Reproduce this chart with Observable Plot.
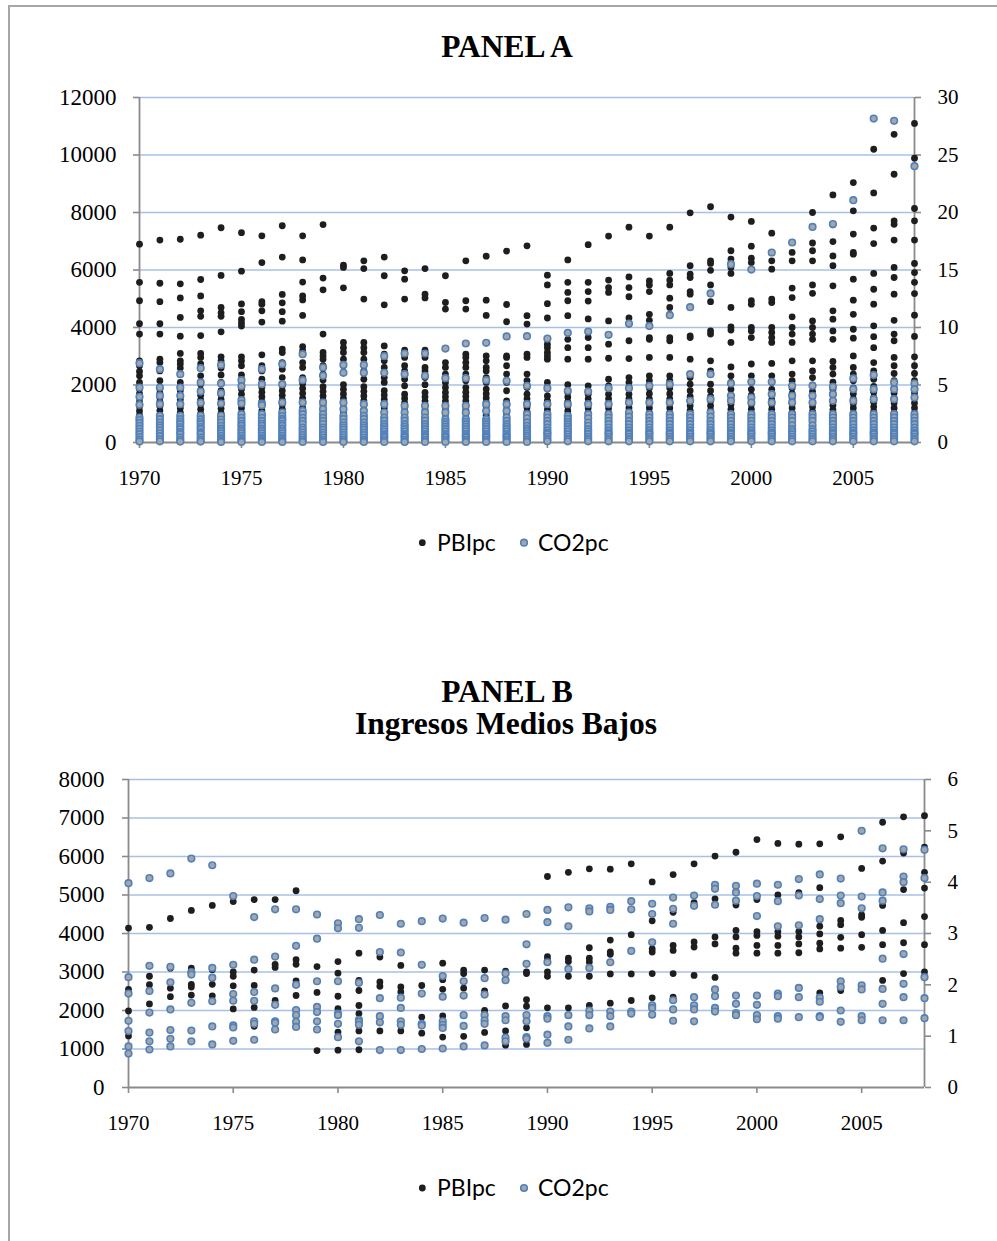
<!DOCTYPE html>
<html><head><meta charset="utf-8">
<script src="https://cdn.jsdelivr.net/npm/d3@7"></script>
<script src="https://cdn.jsdelivr.net/npm/@observablehq/plot@0.6"></script>
<style>
body{margin:0;background:#fff;}
#page{position:relative;width:997px;height:1241px;overflow:hidden;background:#fff;}
.frame{position:absolute;left:8px;top:5px;width:1100px;height:1400px;border-left:2px solid #a6a6a6;border-top:2px solid #a6a6a6;}
.plot{position:absolute;left:0;}
#page svg.plot text{font-family:"Liberation Serif","Times New Roman",serif !important;}
#overlay{position:absolute;left:0;top:0;}
</style></head>
<body><div id="page"><div class="frame"></div></div>
<script>
const years = [1970,1971,1972,1973,1974,1975,1976,1977,1978,1979,1980,1981,1982,1983,1984,1985,1986,1987,1988,1989,1990,1991,1992,1993,1994,1995,1996,1997,1998,1999,2000,2001,2002,2003,2004,2005,2006,2007,2008];
const series = ["PBIpc","CO2pc"];
const titleA = "PANEL A";
const titleB = ["PANEL B","Ingresos Medios Bajos"];
const xTicks = [1970,1975,1980,1985,1990,1995,2000,2005];
const leftTicksA = [0,2000,4000,6000,8000,10000,12000];
const rightTicksA = [0,5,10,15,20,25,30];
const leftTicksB = [0,1000,2000,3000,4000,5000,6000,7000,8000];
const rightTicksB = [0,1,2,3,4,5,6];

// PANEL A: PBIpc per year (left axis)
const pbiA = [
[6900,5570,4930,4130,3770,2840,2670,2470,2320,2090,1860,1700,1550,1400,1250,1100,950,800,650,500,350,200,90],
[7040,5540,4900,4130,3770,2900,2780,2490,2150,1860,1720,1560,1420,1260,1110,960,810,660,510,360,210,100],
[7070,5520,5030,4350,3700,3100,2840,2730,2590,2380,2090,1800,1650,1500,1350,1200,1050,900,750,600,450,300,150],
[7210,5670,5100,4580,4390,3720,3100,2960,2730,2590,2320,2030,1820,1640,1480,1320,1160,1000,840,680,520,360,200,90],
[7470,5810,4700,4510,4390,3850,2980,2840,2590,2350,2090,1800,1660,1500,1340,1180,1020,860,700,540,380,220,100],
[7300,5960,4820,4550,4280,4160,4050,2980,2840,2670,2350,2030,1850,1680,1520,1360,1200,1040,880,720,560,400,240,110],
[7190,6260,4900,4810,4580,4190,3050,2670,2490,2200,1910,1750,1590,1430,1270,1110,950,790,630,470,310,150],
[7540,6450,5150,4860,4550,4220,3250,3130,2780,2550,2260,1970,1800,1640,1480,1320,1160,1000,840,680,520,360,200,100],
[7190,6350,5580,5100,4960,4420,3330,3190,3070,2780,2610,2260,2050,1880,1710,1540,1370,1200,1030,860,690,520,350,180],
[7580,5720,5310,3770,3130,3010,2900,2670,2380,2170,1940,1780,1620,1460,1300,1140,980,820,660,500,340,180],
[6170,6090,5380,3480,3300,3130,2900,2670,2440,2010,1850,1690,1530,1370,1210,1050,890,730,570,410,250,120],
[6320,6050,4990,3480,3300,3130,2900,2490,2200,1940,1780,1620,1460,1300,1140,980,820,660,500,340,180],
[6450,5800,4790,3360,3070,2840,2610,2260,2090,1800,1650,1500,1350,1200,1050,900,750,600,450,300,150],
[5970,5680,4990,3210,2960,2670,2490,2200,1970,1680,1530,1380,1230,1080,930,780,630,480,330,180],
[6050,5160,5030,3210,2960,2610,2490,2260,2010,1740,1590,1440,1290,1140,990,840,690,540,390,240,110],
[5800,4870,4640,2780,2610,2380,2090,1910,1740,1590,1440,1290,1140,990,840,690,540,390,240,110],
[6320,4930,4640,3070,2960,2780,2610,2380,2150,1910,1750,1600,1450,1300,1150,1000,850,700,550,400,250,120],
[6480,4950,4420,3010,2840,2610,2490,2260,2090,1860,1700,1550,1400,1250,1100,950,800,650,500,350,200,100],
[6660,4800,4200,3010,2960,2670,2380,2090,1800,1450,1300,1150,1000,850,700,550,400,250,120],
[6840,4410,4120,3070,2960,2380,2150,1910,1680,1520,1370,1220,1070,920,770,620,470,320,170],
[5820,5480,4830,4330,3590,3420,3300,3130,3010,2900,2090,1860,1620,1460,1300,1140,980,820,660,500,340,180],
[6350,5570,5220,4930,4410,3590,3300,2900,2010,1740,1580,1420,1260,1100,940,780,620,460,300,150],
[6880,5570,5250,4920,4300,3650,3300,2900,1970,1680,1520,1360,1200,1040,880,720,560,400,240,110],
[7180,5650,5390,5220,4230,3750,3420,2930,2200,1970,1680,1520,1360,1200,1040,880,720,560,400,240,110],
[7490,5760,5390,5070,4330,4120,3540,2920,2260,2090,1680,1520,1360,1200,1040,880,720,560,400,240,110],
[7180,5620,5480,5250,4460,4250,3650,3590,2960,2320,2150,1900,1700,1520,1360,1200,1040,880,720,560,400,240,110],
[7490,5880,5650,5480,5020,4700,4460,3650,3540,2960,2320,2150,1900,1700,1520,1360,1200,1040,880,720,560,400,240,110],
[7990,6150,5860,5740,5250,5160,4700,3710,3650,2900,2260,2030,1800,1600,1440,1280,1120,960,800,640,480,320,160],
[8200,6320,6230,5990,5480,4900,3880,3770,2840,2490,2030,1800,1600,1440,1280,1120,960,800,640,480,320,160],
[7840,6670,6380,6090,5880,4700,4020,3910,3480,2630,2320,2090,1850,1650,1480,1320,1160,1000,840,680,520,360,200],
[7690,6830,6410,6260,4930,4810,4000,3880,3650,2730,2320,2090,1850,1650,1480,1320,1160,1000,840,680,520,360,200],
[7280,6320,6030,4990,4870,4000,3830,3650,3480,2750,2320,2090,1850,1650,1480,1320,1160,1000,840,680,520,360,200],
[6960,6610,6320,5370,5040,4370,4000,3770,3480,2840,2380,2150,1900,1700,1520,1360,1200,1040,880,720,560,400,240],
[8000,6940,6670,6320,5480,5190,4230,4000,3770,3590,2840,2490,2260,2000,1780,1580,1400,1240,1080,920,760,600,440,280],
[8610,7570,6990,6490,6150,5450,4580,4290,3880,3590,2820,2610,2380,2100,1850,1650,1470,1300,1140,980,820,660,500,340],
[9040,8060,7250,6610,6550,5680,4950,4460,3940,3630,3010,2610,2380,2150,1900,1700,1520,1360,1200,1040,880,720,560,400],
[10200,8680,7460,6920,5880,5330,4810,4060,3680,3300,2780,2490,2200,1950,1750,1570,1400,1240,1080,920,760,600,440,280],
[10720,9330,7710,7590,7040,6090,5740,5160,4250,3770,3540,2960,2670,2400,2150,1920,1720,1540,1370,1200,1040,880,720,560,400],
[11100,9890,8140,7710,7040,6230,5910,5570,5180,4430,3690,2980,2670,2400,2150,1920,1720,1540,1370,1200,1040,880,720,560,400]
];

// PANEL A: CO2pc per year (right axis)
const co2A = [
[6.90,4.78,3.97,3.28,2.17,1.95,1.70,1.45,1.20,0.95,0.72,0.48,0.25,0.08],
[6.38,4.78,4.06,3.33,2.32,2.03,1.74,1.50,1.30,1.05,0.80,0.55,0.30,0.10],
[5.94,4.78,4.06,3.33,2.32,2.03,1.80,1.59,1.35,1.16,0.90,0.72,0.45,0.25,0.08],
[6.46,5.22,4.43,3.45,2.32,2.03,1.80,1.59,1.35,1.16,0.90,0.72,0.45,0.25,0.08],
[6.75,5.13,4.29,3.39,2.32,2.00,1.74,1.45,1.20,1.01,0.80,0.58,0.38,0.20,0.05],
[5.42,4.90,3.68,3.39,2.46,2.15,1.88,1.62,1.45,1.20,1.01,0.80,0.58,0.38,0.20,0.05],
[6.38,5.07,3.39,3.25,2.46,2.15,1.88,1.62,1.45,1.20,1.01,0.80,0.58,0.38,0.20,0.05],
[6.81,5.07,3.48,2.61,2.30,2.05,1.88,1.62,1.45,1.20,1.01,0.80,0.58,0.38,0.20,0.05],
[7.68,5.42,3.48,2.75,2.46,2.15,1.88,1.60,1.30,1.10,0.87,0.65,0.43,0.22,0.05],
[6.52,5.80,3.48,2.90,2.46,2.15,1.88,1.60,1.30,1.10,0.87,0.65,0.43,0.22,0.05],
[6.75,6.06,3.48,2.90,2.32,2.05,1.74,1.50,1.30,1.10,0.87,0.65,0.43,0.22,0.05],
[6.75,6.06,3.33,2.75,2.32,2.05,1.74,1.50,1.30,1.10,0.87,0.65,0.43,0.22,0.05],
[7.51,6.06,3.33,2.61,2.17,1.90,1.59,1.38,1.16,0.95,0.72,0.55,0.43,0.22,0.05],
[7.74,5.94,3.19,2.61,2.17,1.90,1.59,1.38,1.16,0.95,0.72,0.55,0.43,0.22,0.05],
[7.74,5.80,3.19,2.61,2.17,1.90,1.59,1.38,1.16,0.95,0.72,0.55,0.43,0.22,0.05],
[8.17,5.59,3.19,2.61,2.03,1.80,1.59,1.38,1.16,0.95,0.72,0.55,0.43,0.22,0.05],
[8.61,5.59,3.19,2.61,2.03,1.80,1.59,1.38,1.16,0.95,0.72,0.55,0.43,0.22,0.05],
[8.67,5.42,3.33,2.75,2.03,1.80,1.59,1.38,1.16,0.95,0.72,0.55,0.43,0.22,0.05],
[9.22,5.36,3.33,2.75,2.17,1.88,1.59,1.38,1.16,0.95,0.72,0.55,0.43,0.22,0.05],
[9.25,4.93,3.33,2.46,2.10,1.75,1.45,1.20,1.01,0.80,0.60,0.43,0.22,0.05],
[9.04,4.72,3.33,2.46,2.17,1.88,1.59,1.30,1.05,0.85,0.72,0.50,0.29,0.10],
[9.54,4.49,3.33,2.32,2.05,1.80,1.59,1.38,1.16,0.95,0.72,0.50,0.29,0.10],
[9.65,4.43,3.33,2.46,2.10,1.74,1.45,1.16,0.95,0.72,0.50,0.29,0.10],
[9.36,4.72,3.33,2.46,2.17,1.88,1.59,1.30,1.05,0.85,0.72,0.50,0.29,0.10],
[10.35,4.72,3.48,2.61,2.25,1.88,1.59,1.30,1.05,0.85,0.72,0.50,0.29,0.10],
[10.12,4.93,3.48,2.46,2.17,1.88,1.59,1.30,1.05,0.85,0.72,0.50,0.29,0.10],
[11.07,5.07,3.48,2.46,2.17,1.88,1.59,1.30,1.05,0.85,0.72,0.50,0.29,0.10],
[11.77,5.94,3.62,2.46,2.17,1.88,1.59,1.30,1.05,0.85,0.72,0.50,0.29,0.10],
[12.96,5.94,3.77,2.61,2.25,1.88,1.59,1.30,1.05,0.85,0.72,0.50,0.29,0.10],
[15.51,5.13,4.06,3.62,2.46,2.17,1.88,1.59,1.30,1.05,0.85,0.72,0.50,0.29,0.10],
[15.04,5.28,3.91,3.48,2.46,2.17,1.88,1.59,1.30,1.05,0.85,0.72,0.50,0.29,0.10],
[16.52,5.28,4.20,3.48,2.46,2.17,1.88,1.59,1.30,1.05,0.85,0.72,0.50,0.29,0.10],
[17.39,4.93,4.06,3.48,2.46,2.17,1.88,1.50,1.16,0.95,0.72,0.50,0.29,0.10],
[18.75,4.93,4.06,3.48,2.46,2.17,1.88,1.50,1.16,0.95,0.72,0.50,0.29,0.10],
[18.99,4.84,4.20,3.62,2.46,2.17,1.88,1.59,1.30,1.05,0.85,0.72,0.50,0.29,0.10],
[21.07,5.57,4.64,3.62,2.46,2.17,1.88,1.59,1.30,1.05,0.85,0.72,0.50,0.29,0.10],
[28.17,5.86,4.64,3.77,2.46,2.17,1.88,1.59,1.30,1.05,0.85,0.72,0.50,0.29,0.10],
[27.97,5.22,4.64,3.77,2.46,2.17,1.88,1.59,1.30,1.05,0.85,0.72,0.50,0.29,0.10],
[24.03,5.13,4.64,3.91,2.46,2.17,1.88,1.59,1.30,1.05,0.85,0.72,0.50,0.29,0.10]
];

// PANEL B: PBIpc per year (left axis)
const pbiB = [
[4140,2550,1990,1340],
[4160,2890,2670,2520,2170],
[4390,3100,2580,2360],
[4600,3100,2680,2610,2400],
[4730,3060,2680,2380],
[4830,3000,2890,2640,2040],
[4880,3050,2650,2080,1590],
[4880,3200,3120,2260,1710],
[5110,3320,3200,2770,2390],
[3140,2470,960],
[3270,2970,2370,2050,1440,970],
[3490,2780,2520,2130,1920,1470,980],
[3390,2740,2630,1810,1470],
[3170,2610,2480,1470],
[3190,2650,1830,1410],
[3230,2800,2550,1860,1310],
[3050,2960,2580,1880,1330],
[3050,2510,2000,1430],
[3020,2120,1470,1100],
[3000,2960,2280,2110,1550,1120],
[5480,3400,3320,3000,2890,2070],
[5590,3360,3270,2890,2070],
[5680,3630,3360,3260,2890,2130],
[5670,3830,3520,3460,2950,2190],
[5810,3970,2950,2260],
[5340,4330,3600,3520,2960,2330],
[5530,4550,3690,3560,2960,2350],
[5810,4800,3780,3650,2910],
[6010,4900,3910,3730,2860],
[6110,4740,4080,3910,3620,3490],
[6440,4880,4050,3950,3690,3490],
[6340,5000,4050,3930,3690,3490],
[6320,5060,4050,3910,3730,3500],
[6330,5190,4190,3990,3750,3600,2460],
[6510,4340,4230,3900,3620,2520],
[5690,4480,4420,3970,3640],
[6890,5880,4730,4080,3710,2780],
[7030,6090,5140,4280,3760,2960],
[7060,6240,5590,5180,4440,3710,3000]
];

// PANEL B: CO2pc per year (right axis)
const co2B = [
[3.98,2.15,1.83,1.30,1.10,0.80,0.66],
[4.08,2.37,1.88,1.46,1.07,0.90,0.74],
[4.17,2.35,2.05,1.52,1.12,0.95,0.80],
[4.46,2.25,2.20,1.65,1.11,0.90],
[4.33,2.33,2.14,1.68,1.19,0.84],
[3.73,2.39,1.82,1.69,1.21,1.17,0.91],
[3.32,2.49,1.86,1.69,1.29,1.24,0.93],
[3.47,2.55,1.93,1.61,1.29,1.26,1.13],
[3.47,2.76,2.00,1.51,1.41,1.28,1.18],
[3.37,2.90,2.07,1.57,1.47,1.29,1.13],
[3.20,3.10,2.07,1.44,1.41,1.24,0.98],
[3.28,3.11,2.04,1.32,1.28,1.22,0.90],
[3.36,2.64,1.74,1.39,1.27,0.73],
[3.19,2.63,1.75,1.55,1.29,1.22,0.73],
[3.24,2.39,1.83,1.24,1.21,0.75],
[3.29,2.17,1.77,1.29,1.22,1.16,0.76],
[3.21,2.07,1.79,1.41,1.20,0.80],
[3.30,2.13,1.81,1.41,1.31,1.24,0.82],
[3.27,2.22,2.09,1.39,1.31,0.97,0.90],
[3.38,2.79,2.41,1.41,1.29,0.98,0.95],
[3.46,3.22,2.44,1.39,1.34,1.03,0.87],
[3.51,3.14,2.31,1.41,1.19,0.93],
[3.49,3.43,2.33,1.50,1.41,1.15],
[3.52,3.46,2.44,1.48,1.39,1.19],
[3.63,3.47,2.66,1.48,1.44],
[3.58,3.38,2.83,1.60,1.55,1.42],
[3.70,3.48,3.19,1.70,1.52,1.30],
[3.74,3.54,1.76,1.60,1.52,1.29],
[3.95,3.87,3.56,1.91,1.78,1.55,1.48],
[3.93,3.80,3.64,1.79,1.63,1.45,1.41],
[3.97,3.73,3.34,1.79,1.61,1.41,1.33],
[3.95,3.63,3.14,1.83,1.78,1.39,1.34],
[4.06,3.74,3.16,1.94,1.76,1.37],
[4.15,3.67,3.28,1.75,1.67,1.39,1.37],
[4.07,3.74,3.59,2.07,1.96,1.50,1.28],
[5.00,3.72,3.49,1.99,1.91,1.39,1.31],
[4.66,3.80,3.64,2.51,1.92,1.63,1.31],
[4.64,4.11,4.00,2.60,2.02,1.76,1.31],
[4.63,4.08,2.15,1.74,1.35]
];

const C = {black:"#1e1e1e", blueStroke:"#4f81bd", blueFill:"#a6a6a6", grid:"#a9c0e4", axis:"#8a8a8a"};

function flat(arr, factor){
  const out = [];
  years.forEach((yr,i)=>arr[i].forEach(v=>out.push({year:yr, value:v, y:v*factor})));
  return out;
}

function panel({pbi, co2, yMax, rMax, leftTicks, rightTicks, gridTicks, top, height, mt, mb, ml, mr, lpad, rpad}){
  const f = yMax / rMax;
  const black = flat(pbi, 1);
  const blue = flat(co2, f);
  const svg = Plot.plot({
    width: 997, height, marginTop: mt, marginBottom: mb, marginLeft: ml, marginRight: mr,
    x: {domain: [1970, 2008]},
    y: {domain: [0, yMax]},
    style: {fontFamily: "'Liberation Serif'", background: "transparent", overflow: "visible", color: "#000"},
    marks: [
      Plot.ruleY(gridTicks, {stroke: C.grid, strokeWidth: 1.7}),
      Plot.axisY({anchor: "left", ticks: leftTicks, tickSize: 6, tickPadding: lpad, tickFormat: d => String(d), label: null, stroke: C.axis, strokeWidth: 1.6, fill: "#000", fontSize: 23}),
      Plot.axisY({anchor: "right", ticks: rightTicks.map(t => t * f), tickSize: 6, tickPadding: rpad, tickFormat: d => String(Math.round(d / f)), label: null, stroke: C.axis, strokeWidth: 1.6, fill: "#000", fontSize: 21}),
      Plot.axisX({anchor: "bottom", ticks: xTicks, tickSize: 6, tickPadding: 22, tickFormat: d => String(d), label: null, stroke: C.axis, strokeWidth: 1.6, fill: "#000", fontSize: 21}),
      Plot.ruleX([1970, 2008], {stroke: C.axis, strokeWidth: 1.8}),
      Plot.ruleY([0], {stroke: C.axis, strokeWidth: 1.8}),
      Plot.dot(black, {x: "year", y: "y", r: 3.4, fill: C.black, stroke: "none"}),
      Plot.dot(blue, {x: "year", y: "y", r: 3.3, fill: C.blueFill, stroke: C.blueStroke, strokeWidth: 1.6})
    ]
  });
  svg.classList.add("plot");
  svg.style.top = top + "px";
  document.getElementById("page").appendChild(svg);
}

panel({pbi: pbiA, co2: co2A, yMax: 12000, rMax: 30, leftTicks: leftTicksA, rightTicks: rightTicksA,
  gridTicks: [2000,4000,6000,8000,10000,12000], top: 0, height: 500, mt: 97, mb: 58, ml: 139, mr: 83, lpad: 17, rpad: 17});
panel({pbi: pbiB, co2: co2B, yMax: 8000, rMax: 6, leftTicks: leftTicksB, rightTicks: rightTicksB,
  gridTicks: [1000,2000,3000,4000,5000,6000,7000,8000], top: 740, height: 400, mt: 39, mb: 53, ml: 128, mr: 73, lpad: 18, rpad: 17});

// titles and legends
const ns = "http://www.w3.org/2000/svg";
const ov = document.createElementNS(ns, "svg");
ov.setAttribute("id", "overlay");
ov.setAttribute("width", 997); ov.setAttribute("height", 1241);
function txt(x, y, s, attrs){
  const t = document.createElementNS(ns, "text");
  t.setAttribute("x", x); t.setAttribute("y", y); t.textContent = s;
  for (const k in attrs) t.setAttribute(k, attrs[k]);
  ov.appendChild(t);
}
function circ(cx, cy, r, attrs){
  const c = document.createElementNS(ns, "circle");
  c.setAttribute("cx", cx); c.setAttribute("cy", cy); c.setAttribute("r", r);
  for (const k in attrs) c.setAttribute(k, attrs[k]);
  ov.appendChild(c);
}
const tAttr = {"text-anchor": "middle", "font-family": "Liberation Serif", "font-weight": "bold", "font-size": 31.5, fill: "#000"};
txt(507, 57, titleA, tAttr);
txt(507, 702, titleB[0], tAttr);
txt(506, 734, titleB[1], tAttr);
function legend(cy){
  const la = {"font-family": "Lato", "font-size": 23, fill: "#000"};
  circ(422.3, cy, 3.4, {fill: C.black});
  txt(437, cy + 8, series[0], la);
  circ(524, cy, 3.3, {fill: C.blueFill, stroke: C.blueStroke, "stroke-width": 1.6});
  txt(538, cy + 8, series[1], la);
}
legend(542.7);
legend(1188);
document.getElementById("page").appendChild(ov);
</script>
</body></html>
